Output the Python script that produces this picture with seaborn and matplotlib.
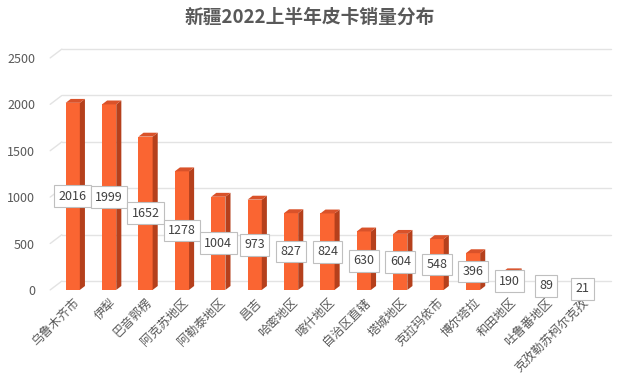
import matplotlib
matplotlib.use("Agg")
import matplotlib.pyplot as plt
from matplotlib.patches import Polygon
import pandas as pd
import seaborn as sns

# data
regions = ["乌鲁木齐市", "伊犁", "巴音郭楞", "阿克苏地区", "阿勒泰地区", "昌吉",
           "哈密地区", "喀什地区", "自治区直辖", "塔城地区", "克拉玛依市", "博尔塔拉",
           "和田地区", "吐鲁番地区", "克孜勒苏柯尔克孜"]
sales = [2016, 1999, 1652, 1278, 1004, 973, 827, 824, 630, 604, 548, 396, 190, 89, 21]
yticks = [0, 500, 1000, 1500, 2000, 2500]

df = pd.DataFrame({"region": regions, "sales": sales})

sns.set_theme(style="white")
plt.rcParams["font.family"] = ["Noto Sans CJK SC", "DejaVu Sans"]

FRONT = "#FA6532"
SIDE = "#B5401C"
TOP = "#D9522A"
GRID = "#E3E3E3"
TXT = "#595959"

fig = plt.figure(figsize=(6.2, 3.77), dpi=100)
ax = fig.add_axes([0.088, 0.231, 0.898, 0.640])

bar_w = 0.39
sns.barplot(data=df, x="region", y="sales", color=FRONT, width=bar_w,
            saturation=1, ax=ax, zorder=3, edgecolor="none")

ax.set_xlim(-0.5, 14.8)
ax.set_ylim(0, 2600)

# back-wall gridlines with a slanted side edge
back = 95
for t in yticks:
    ax.plot([-0.3, 14.8], [t + back, t + back], color=GRID, lw=1, zorder=1,
            clip_on=False)
    ax.plot([-0.62, -0.3], [t, t + back], color=GRID, lw=1, zorder=1,
            clip_on=False)

# 3D side and top faces
dx, dy = 0.14, 42
for i, v in enumerate(sales):
    r = i + bar_w / 2
    l = i - bar_w / 2
    ax.add_patch(Polygon([(r, 0), (r + dx, dy), (r + dx, v + dy), (r, v)],
                         closed=True, facecolor=SIDE, edgecolor="none",
                         zorder=3, clip_on=False))
    ax.add_patch(Polygon([(l, v), (l + dx, v + dy), (r + dx, v + dy), (r, v)],
                         closed=True, facecolor=TOP, edgecolor="none",
                         zorder=3, clip_on=False))
    ax.text(i, v / 2, str(v), ha="center", va="center", fontsize=9,
            color="#404040", zorder=5,
            bbox=dict(boxstyle="square,pad=0.35", facecolor="white",
                      edgecolor="#BFBFBF", lw=0.8))

ax.set_yticks(yticks)
ax.set_yticklabels([str(t) for t in yticks], fontsize=9, color=TXT)
ax.tick_params(axis="y", length=0, pad=14)
ax.tick_params(axis="x", length=0, pad=4)
ax.set_xticks(range(len(regions)))
ax.set_xticklabels(regions, rotation=45, ha="right", rotation_mode="anchor",
                   fontsize=8.8, color=TXT)
ax.set_xlabel("")
ax.set_ylabel("")
for s in ax.spines.values():
    s.set_visible(False)

fig.suptitle("新疆2022上半年皮卡销量分布", x=0.5, y=0.98, fontsize=13.5,
             fontweight="bold", color=TXT)

fig.savefig("out.png", dpi=100, facecolor="white")
